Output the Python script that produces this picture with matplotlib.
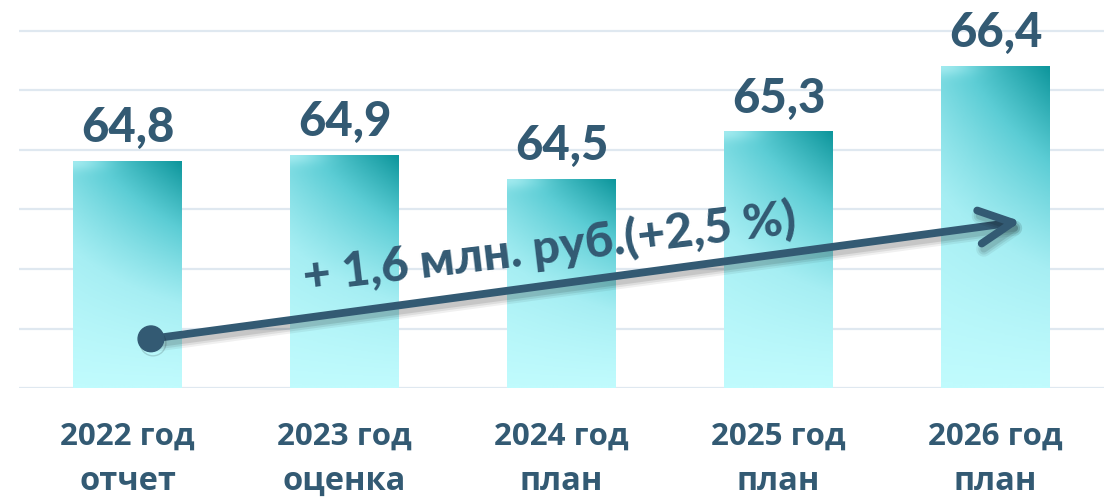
import numpy as np
import matplotlib
matplotlib.use("Agg")
import matplotlib.pyplot as plt
from matplotlib.colors import LinearSegmentedColormap
from matplotlib.transforms import blended_transform_factory
import matplotlib.patheffects as pe

# ---- data ----
years = ["2022 год", "2023 год", "2024 год", "2025 год", "2026 год"]
kinds = ["отчет", "оценка", "план", "план", "план"]
values = [64.8, 64.9, 64.5, 65.3, 66.4]
value_labels = ["64,8", "64,9", "64,5", "65,3", "66,4"]
trend_text = "+ 1,6 млн. руб.(+2,5 %)"
y_min = 61.0
y_max = 67.515
grid_levels = [61, 62, 63, 64, 65, 66, 67]

TEXT = "#335a73"
GRID = "#dfe8f0"

fig = plt.figure(figsize=(11.12, 4.98), dpi=100)
ax = fig.add_axes([19 / 1112, (498 - 388.3) / 498, (1104 - 19) / 1112, 388.3 / 498])
ax.set_xlim(-0.5, len(values) - 0.5)
ax.set_ylim(y_min, y_max)
ax.axis("off")

for g in grid_levels:
    ax.axhline(g, color=GRID, lw=1.6, zorder=0)

cmap = LinearSegmentedColormap.from_list(
    "bar", [(0.0, "#c0fbfd"), (0.3, "#a6eef3"), (0.65, "#5ccdd5"), (1.0, "#0e969c")])

bw = 0.5
ny, nx = 200, 60
vv, uu = np.meshgrid(np.linspace(0, 1, ny), np.linspace(0, 1, nx), indexing="ij")
for i, v in enumerate(values):
    t = np.clip(vv ** 1.2 * (0.55 + 0.45 * uu), 0, 1)
    rgb = cmap(t)[..., :3]
    # soft highlight at the top-left corner
    d = np.hypot(uu * 0.6, (1 - vv) * 6.0 * (v - y_min) / 5.4)
    h = np.exp(-(d / 0.18) ** 2)[..., None] * 0.55
    rgb = rgb * (1 - h) + np.array([0.78, 0.98, 0.99]) * h
    ax.imshow(rgb, extent=[i - bw / 2, i + bw / 2, y_min, v], origin="lower",
              aspect="auto", interpolation="bilinear", zorder=2)
    ax.annotate(value_labels[i], xy=(i, v), xytext=(0, 14), textcoords="offset points",
                ha="center", va="baseline", fontsize=34, fontweight="black",
                family=["Lato", "DejaVu Sans"], color=TEXT, zorder=5)

ax.set_xlim(-0.5, len(values) - 0.5)
ax.set_ylim(y_min, y_max)

# category labels
tr = blended_transform_factory(ax.transData, fig.transFigure)
for i, (a, b) in enumerate(zip(years, kinds)):
    ax.text(i, (498 - 445) / 498, a, transform=tr, ha="center", va="baseline",
            fontsize=22.5, fontweight="bold", family=["Open Sans", "DejaVu Sans"], color=TEXT)
    ax.text(i, (498 - 490) / 498, b, transform=tr, ha="center", va="baseline",
            fontsize=23.5, fontweight="bold", family=["Open Sans", "DejaVu Sans"], color=TEXT)

# trend arrow
start = (0.108, 61.83)
end = (4.118, 63.80)
shadow = [pe.SimpleLineShadow(offset=(1.5, -4), shadow_color="#000000", alpha=0.06, linewidth=11),
          pe.SimpleLineShadow(offset=(1.5, -4), shadow_color="#000000", alpha=0.08, linewidth=8),
          pe.SimpleLineShadow(offset=(1.5, -4), shadow_color="#000000", alpha=0.10, linewidth=5),
          pe.Normal()]
ax.annotate("", xy=end, xytext=start,
            arrowprops=dict(arrowstyle="->,head_length=24,head_width=12", mutation_scale=1,
                            lw=5.6, color=TEXT, capstyle="round", joinstyle="round",
                            shrinkA=0, shrinkB=0, path_effects=shadow),
            zorder=6)
ax.plot([start[0]], [start[1]], marker="o", ms=18.5, color=TEXT, zorder=7,
        path_effects=[pe.SimpleLineShadow(offset=(1.5, -3), alpha=0.15), pe.Normal()])

ax.text(1.955, 63.1, trend_text, rotation=6.8, rotation_mode="anchor",
        ha="center", va="baseline", fontsize=34.5, fontweight="black",
        family=["Lato", "DejaVu Sans"], color=TEXT, zorder=8)

fig.savefig("out.png", dpi=100)
